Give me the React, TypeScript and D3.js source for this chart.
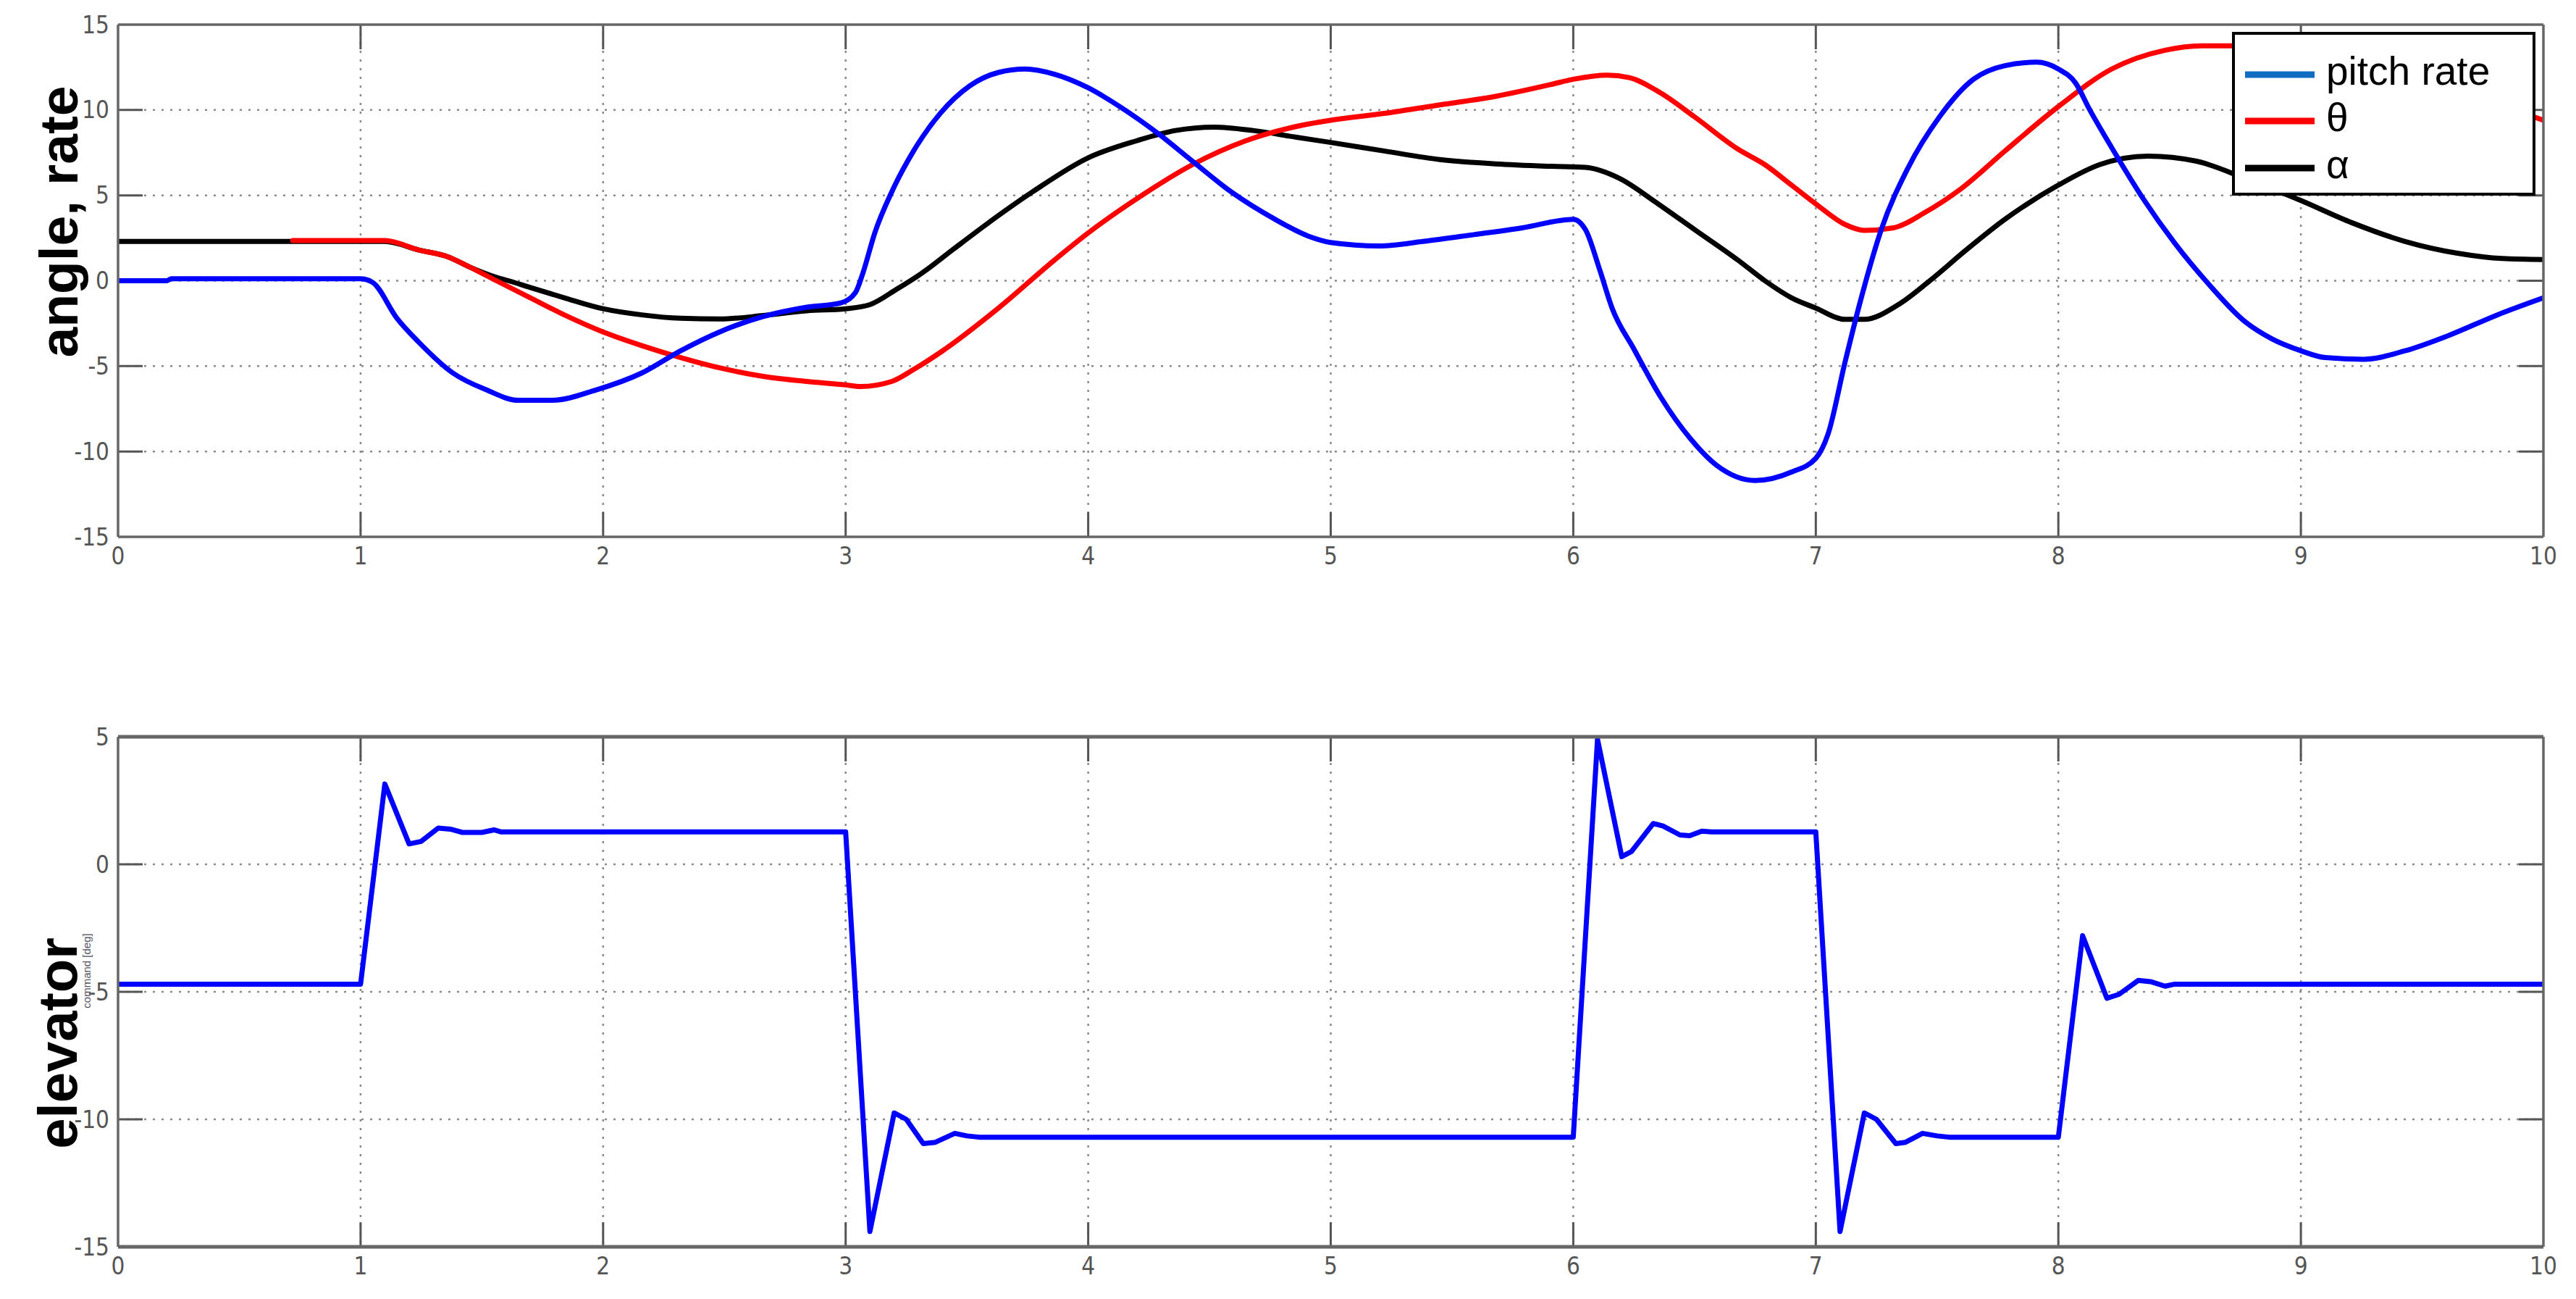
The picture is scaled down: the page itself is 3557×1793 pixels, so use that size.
import React from 'react'
import * as d3 from 'd3'

// ---- data ----
const xTicks = [0, 1, 2, 3, 4, 5, 6, 7, 8, 9, 10]
const topYTicks = [-15, -10, -5, 0, 5, 10, 15]
const botYTicks = [-15, -10, -5, 0, 5]

const pitchRateT = [0, 0.2, 0.22, 1.0, 1.05, 1.15, 1.24, 1.38, 1.52, 1.65, 1.79, 1.97, 2.16, 2.32, 2.48, 2.66, 2.84, 2.98, 3.04, 3.07, 3.12, 3.19, 3.28, 3.39, 3.51, 3.63, 3.74, 3.86, 4.0, 4.13, 4.29, 4.43, 4.59, 4.77, 4.91, 5.0, 5.2, 5.38, 5.59, 5.79, 6.0, 6.05, 6.11, 6.16, 6.25, 6.36, 6.48, 6.59, 6.75, 6.9, 7.0, 7.05, 7.12, 7.18, 7.27, 7.38, 7.51, 7.65, 7.78, 7.91, 8.0, 8.07, 8.13, 8.22, 8.35, 8.48, 8.62, 8.77, 8.88, 9.0, 9.1, 9.26, 9.43, 9.61, 9.81, 10.0]
const pitchRate = [0, 0, 0.12, 0.12, -0.1, -2.2, -3.6, -5.4, -6.4, -7.0, -7.0, -6.4, -5.4, -4.1, -3.0, -2.1, -1.55, -1.3, -0.7, 0.4, 2.8, 5.2, 7.6, 9.8, 11.4, 12.2, 12.4, 12.1, 11.3, 10.2, 8.6, 7.0, 5.2, 3.6, 2.6, 2.24, 2.04, 2.3, 2.7, 3.1, 3.6, 3.0, 0.6, -1.6, -4.0, -6.8, -9.2, -10.8, -11.7, -11.2, -10.4, -9.0, -4.8, -1.4, 3.0, 6.6, 9.6, 11.8, 12.6, 12.8, 12.4, 11.6, 10.0, 7.8, 4.8, 2.2, -0.2, -2.4, -3.4, -4.1, -4.5, -4.6, -4.1, -3.2, -2.0, -1.0]

const thetaT = [0.72, 1.1, 1.24, 1.36, 1.45, 1.56, 1.7, 1.84, 2.0, 2.16, 2.32, 2.48, 2.66, 2.84, 3.0, 3.06, 3.19, 3.28, 3.39, 3.63, 3.86, 4.0, 4.2, 4.43, 4.65, 4.88, 5.0, 5.22, 5.45, 5.68, 5.91, 6.0, 6.14, 6.23, 6.36, 6.5, 6.68, 6.79, 6.9, 7.0, 7.12, 7.2, 7.32, 7.45, 7.6, 7.78, 8.0, 8.22, 8.44, 8.59, 8.73, 9.0, 9.3, 9.6, 9.8, 10.0]
const theta = [2.35, 2.35, 1.8, 1.4, 0.8, 0, -1.0, -2.0, -3.0, -3.8, -4.5, -5.1, -5.6, -5.9, -6.1, -6.2, -5.9, -5.2, -4.2, -1.6, 1.2, 2.8, 4.8, 6.8, 8.2, 9.1, 9.4, 9.8, 10.3, 10.8, 11.5, 11.8, 12.04, 11.9, 11.0, 9.6, 7.7, 6.8, 5.6, 4.5, 3.3, 2.95, 3.1, 4.0, 5.4, 7.6, 10.2, 12.4, 13.5, 13.76, 13.76, 13.5, 12.7, 11.4, 10.4, 9.4]

const alphaT = [0, 1.0, 1.1, 1.24, 1.36, 1.45, 1.56, 1.61, 1.7, 1.84, 2.0, 2.16, 2.32, 2.48, 2.66, 2.84, 3.0, 3.1, 3.21, 3.32, 3.44, 3.58, 3.77, 4.0, 4.2, 4.36, 4.52, 4.68, 4.86, 5.0, 5.22, 5.45, 5.68, 5.91, 6.05, 6.19, 6.34, 6.5, 6.68, 6.79, 6.9, 7.0, 7.12, 7.2, 7.34, 7.47, 7.62, 7.78, 8.0, 8.17, 8.37, 8.57, 8.77, 9.0, 9.21, 9.43, 9.65, 9.83, 10.0]
const alpha = [2.3, 2.3, 2.3, 1.8, 1.4, 0.8, 0.2, 0, -0.4, -1.0, -1.64, -2.0, -2.2, -2.24, -2.04, -1.76, -1.64, -1.4, -0.5, 0.5, 1.8, 3.3, 5.2, 7.2, 8.2, 8.8, 9.0, 8.8, 8.4, 8.1, 7.6, 7.1, 6.84, 6.7, 6.64, 6.0, 4.6, 3.0, 1.2, 0, -1.0, -1.6, -2.26, -2.26, -1.4, 0, 1.8, 3.6, 5.6, 6.8, 7.3, 7.0, 6.0, 4.7, 3.4, 2.3, 1.6, 1.3, 1.24]

const elevT = [0, 1.0, 1.1, 1.2, 1.25, 1.32, 1.37, 1.42, 1.5, 1.55, 1.58, 3.0, 3.1, 3.2, 3.25, 3.32, 3.37, 3.45, 3.5, 3.55, 6.0, 6.1, 6.2, 6.24, 6.33, 6.37, 6.44, 6.48, 6.53, 6.57, 7.0, 7.1, 7.2, 7.25, 7.33, 7.37, 7.44, 7.5, 7.55, 8.0, 8.1, 8.2, 8.25, 8.33, 8.38, 8.44, 8.48, 10.0]
const elev = [-4.7, -4.7, 3.15, 0.8, 0.9, 1.42, 1.38, 1.25, 1.25, 1.35, 1.27, 1.27, -14.4, -9.75, -10.0, -10.95, -10.9, -10.55, -10.65, -10.7, -10.7, 4.9, 0.3, 0.5, 1.6, 1.5, 1.15, 1.12, 1.3, 1.27, 1.27, -14.4, -9.75, -10.0, -10.95, -10.9, -10.55, -10.65, -10.7, -10.7, -2.8, -5.25, -5.1, -4.55, -4.6, -4.78, -4.7, -4.7]

const legendNames = ['pitch rate', 'θ', 'α']
const legendColors = ['#106dc2', '#ff0000', '#000000']

const W = 3557
const H = 1793
const X0 = 163
const X1 = 3512
const tickFont = '"Liberation Sans Narrow", "DejaVu Sans Condensed", "Liberation Sans", sans-serif'
const labelFont = '"Liberation Sans", Arial, sans-serif'

type Series = { t: number[]; v: number[]; color: string; smooth: boolean }

function Panel({ id, top, bottom, yTicks, series, hWidth }: { id: string; top: number; bottom: number; yTicks: number[]; series: Series[]; hWidth: number }) {
  const x = d3.scaleLinear().domain([0, 10]).range([X0, X1])
  const y = d3.scaleLinear().domain([yTicks[0], yTicks[yTicks.length - 1]]).range([bottom, top])
  const tl = 34
  const innerX = xTicks.slice(1, -1)
  const innerY = yTicks.slice(1, -1)
  return (
    <g>
      <defs>
        <clipPath id={id}>
          <rect x={X0} y={top} width={X1 - X0} height={bottom - top} />
        </clipPath>
      </defs>
      {/* grid */}
      <g stroke="#8a8a8a" strokeWidth={2.5} strokeDasharray="3 9">
        {innerX.map(d => <line key={'gx' + d} x1={x(d)} x2={x(d)} y1={top} y2={bottom} />)}
        {innerY.map(d => <line key={'gy' + d} x1={X0} x2={X1} y1={y(d)} y2={y(d)} />)}
      </g>
      {/* ticks inside */}
      <g stroke="#555" strokeWidth={3}>
        {innerX.map(d => (
          <g key={'tx' + d}>
            <line x1={x(d)} x2={x(d)} y1={bottom} y2={bottom - tl} />
            <line x1={x(d)} x2={x(d)} y1={top} y2={top + tl} />
          </g>
        ))}
        {innerY.map(d => (
          <g key={'ty' + d}>
            <line x1={X0} x2={X0 + tl} y1={y(d)} y2={y(d)} />
            <line x1={X1} x2={X1 - tl} y1={y(d)} y2={y(d)} />
          </g>
        ))}
      </g>
      {/* lines */}
      <g clipPath={`url(#${id})`} fill="none" strokeWidth={7} strokeLinejoin="round" strokeLinecap="round">
        {series.map((s, i) => {
          const pts = s.t.map((t, k) => [t, s.v[k]] as [number, number])
          const gen = d3.line<[number, number]>().x(d => x(d[0])).y(d => y(d[1]))
            .curve(s.smooth ? d3.curveMonotoneX : d3.curveLinear)
          return <path key={i} d={gen(pts) || ''} stroke={s.color} />
        })}
      </g>
      {/* frame */}
      <g stroke="#666" fill="none">
        <line x1={X0} x2={X1} y1={top} y2={top} strokeWidth={hWidth} />
        <line x1={X0} x2={X1} y1={bottom} y2={bottom} strokeWidth={hWidth} />
        <line x1={X0} x2={X0} y1={top} y2={bottom} strokeWidth={3.5} />
        <line x1={X1} x2={X1} y1={top} y2={bottom} strokeWidth={3.5} />
      </g>
      {/* tick labels */}
      <g fontFamily={tickFont} fontSize={33} fill="#555">
        {yTicks.map(d => (
          <text key={'ly' + d} x={X0 - 12} y={y(d)} dy="0.35em" textAnchor="end">{d}</text>
        ))}
        {xTicks.map(d => (
          <text key={'lx' + d} x={x(d)} y={bottom + 38} textAnchor="middle">{d}</text>
        ))}
      </g>
    </g>
  )
}

export default function App() {
  const topSeries: Series[] = [
    { t: alphaT, v: alpha, color: '#000000', smooth: true },
    { t: thetaT, v: theta, color: '#ff0000', smooth: true },
    { t: pitchRateT, v: pitchRate, color: '#0000ff', smooth: true },
  ]
  const botSeries: Series[] = [{ t: elevT, v: elev, color: '#0000ff', smooth: false }]

  const lgX = 3084, lgY = 46, lgW = 415, lgH = 222
  const rowY = [103, 167, 232]

  return (
    <svg width={W} height={H} style={{ position: 'absolute', left: 0, top: 0, display: 'block', background: '#fff' }}>
      <rect x={0} y={0} width={W} height={H} fill="#fff" />
      <Panel id="clipTop" top={34} bottom={741} yTicks={topYTicks} series={topSeries} hWidth={3.5} />
      <Panel id="clipBot" top={1017} bottom={1721} yTicks={botYTicks} series={botSeries} hWidth={5} />

      {/* legend */}
      <g>
        <rect x={lgX} y={lgY} width={lgW} height={lgH} fill="#fff" stroke="#000" strokeWidth={4} />
        {legendNames.map((n, i) => (
          <g key={n}>
            <line x1={3100} x2={3196} y1={rowY[i]} y2={rowY[i]} stroke={legendColors[i]} strokeWidth={9} />
            <text x={3212} y={rowY[i] + 14} fontFamily={labelFont} fontSize={55} fill="#000">{n}</text>
          </g>
        ))}
      </g>

      {/* y labels */}
      <text transform="translate(107,306) rotate(-90)" textAnchor="middle" fontFamily={labelFont} fontWeight="bold" fontSize={75} fill="#000">angle, rate</text>
      <text transform="translate(106,1440) rotate(-90)" textAnchor="middle" fontFamily={labelFont} fontWeight="bold" fontSize={76} fill="#000">elevator</text>
      <text transform="translate(125,1340) rotate(-90)" textAnchor="middle" fontFamily={labelFont} fontSize={15} fill="#556">command [deg]</text>
    </svg>
  )
}
